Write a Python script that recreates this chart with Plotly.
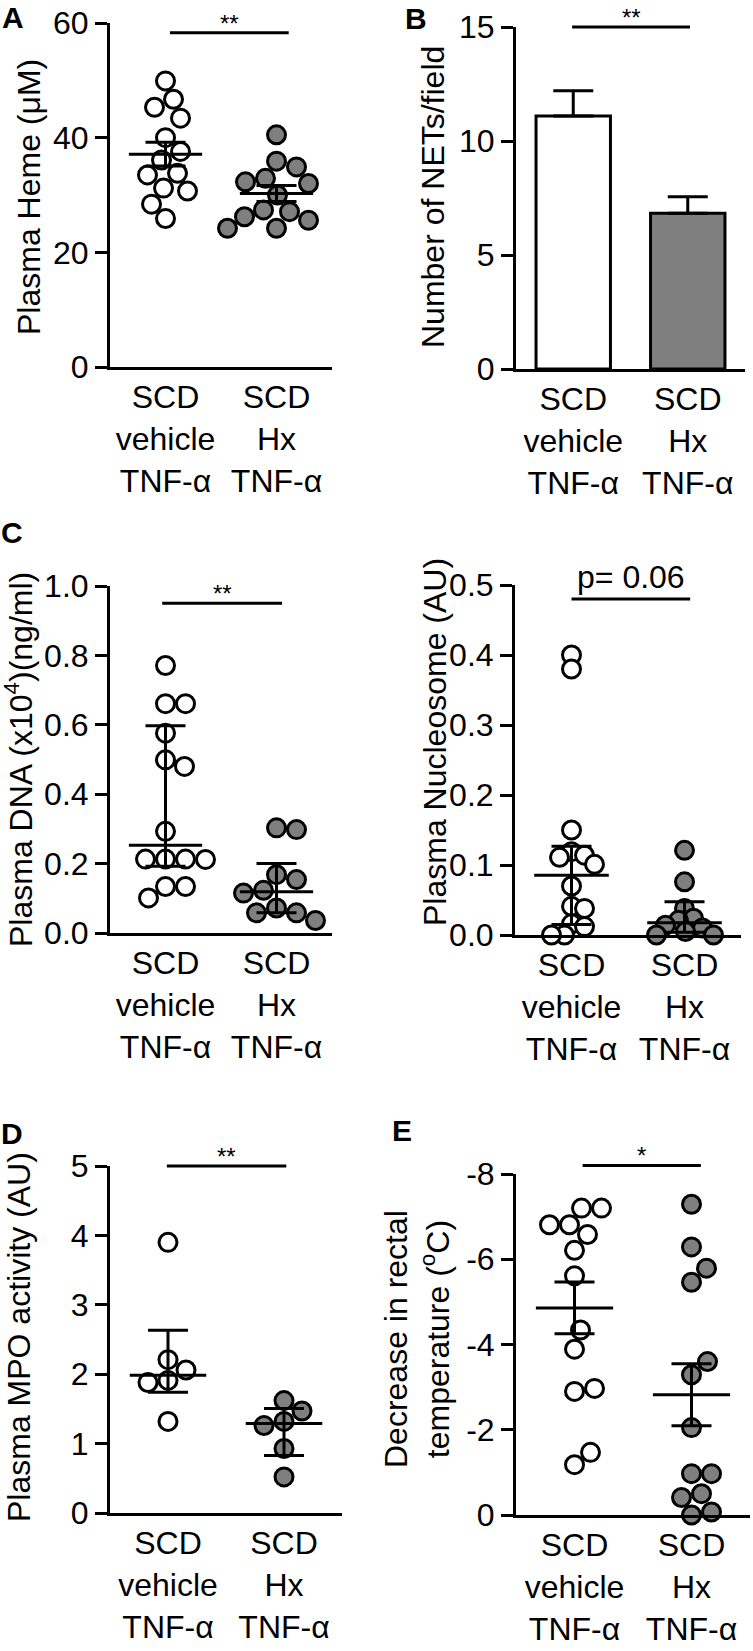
"""Six-panel dot/bar figure: plasma heme, NETs, DNA, nucleosome, MPO, temperature."""

import numpy as np
import plotly.graph_objects as go

W, H = 753, 1651
FONT = "Liberation Sans, Arial, Helvetica, sans-serif"
GRAY = "#7f7f7f"

# ---- data -------------------------------------------------------------
groups = ["SCD<br>vehicle<br>TNF-α", "SCD<br>Hx<br>TNF-α"]

heme_vehicle = [49.9, 46.7, 45.3, 43.4, 40.0, 37.6, 36.1, 33.8, 33.5, 31.2, 30.7, 28.4, 25.9]
heme_hx = [40.5, 35.9, 34.9, 32.9, 32.3, 32.0, 30.0, 27.4, 27.1, 26.2, 25.6, 24.2, 24.2]

nets_mean = [11.1, 6.83]
nets_sem = [1.1, 0.73]

dna_vehicle = [0.771, 0.661, 0.661, 0.576, 0.499, 0.480, 0.293,
               0.213, 0.213, 0.212, 0.213, 0.134, 0.134, 0.101]
dna_hx = [0.298, 0.303, 0.168, 0.154, 0.123, 0.115, 0.072, 0.058, 0.058, 0.036]

nuc_vehicle = [0.400, 0.380, 0.150, 0.119, 0.114, 0.111, 0.101,
               0.070, 0.041, 0.038, 0.016, 0.012, 0.0, 0.0]
nuc_hx = [0.121, 0.076, 0.038, 0.024, 0.021, 0.014, 0.010, 0.005, 0.0, 0.0]

mpo_vehicle = [3.90, 2.21, 2.06, 1.91, 1.88, 1.32]
mpo_hx = [1.62, 1.47, 1.32, 1.26, 0.93, 0.52]

temp_vehicle = [-7.20, -7.20, -6.81, -6.81, -6.58, -6.21, -5.61,
                -4.34, -3.89, -2.97, -2.90, -1.47, -1.18]
temp_hx = [-7.29, -6.29, -5.79, -5.46, -3.60, -3.29, -2.05,
           -0.97, -0.97, -0.50, -0.41, -0.07, 0.0]

ticks_heme = [0, 20, 40, 60]
ticks_nets = [0, 5, 10, 15]
ticks_dna = [0.0, 0.2, 0.4, 0.6, 0.8, 1.0]
ticks_nuc = [0.0, 0.1, 0.2, 0.3, 0.4, 0.5]
ticks_mpo = [0, 1, 2, 3, 4, 5]
ticks_temp = [-8, -6, -4, -2, 0]
ticktext_temp = ["-8", "-6", "-4", "-2", "0"]


# ---- helpers ----------------------------------------------------------
def mean_sem(v):
    v = np.asarray(v, dtype=float)
    m = v.mean()
    s = v.std(ddof=1) / np.sqrt(len(v))
    return m, s, s


def median_iqr(v):
    q1, med, q3 = np.percentile(np.asarray(v, dtype=float), [25, 50, 75], method="weibull")
    return med, q3 - med, med - q1


def swarm_x(values, center, ppx, ppy, gap=20.0):
    """Simple beeswarm: nearest free horizontal slot for each point (pixels)."""
    values = np.asarray(values, dtype=float)
    placed = []
    xs = np.zeros(len(values))
    for i in np.argsort(-values, kind="stable"):
        py = values[i] * ppy
        k = 0
        chosen = None
        while chosen is None:
            for off in ([0] if k == 0 else [k, -k]):
                if all((off - qx) ** 2 + (py - qy) ** 2 >= gap ** 2 for qx, qy in placed):
                    chosen = off
                    break
            k += 1
        placed.append((chosen, py))
        xs[i] = center + chosen / ppx
    return xs


def axis_keys(n):
    s = "" if n == 1 else str(n)
    return "x" + s, "y" + s, "xaxis" + s, "yaxis" + s


def setup_axes(fig, n, box, yrange, tickvals, ticktext=None, fmt=None):
    x0, x1, yt, yb = box
    xr, yr, xk, yk = axis_keys(n)
    fig.layout[xk] = dict(
        domain=[x0 / W, x1 / W], range=[0.5, 2.5], anchor=yr, automargin=False,
        tickvals=[1, 2], ticktext=groups, ticks="",
        showline=True, linewidth=3, linecolor="black",
        showgrid=False, zeroline=False, fixedrange=True,
        tickfont=dict(size=32, color="black", family=FONT),
    )
    ya = dict(
        domain=[1 - yb / H, 1 - yt / H], range=yrange, anchor=xr, automargin=False,
        tickvals=tickvals, ticks="outside", ticklen=12, tickwidth=3, tickcolor="black",
        showline=True, linewidth=3, linecolor="black",
        showgrid=False, zeroline=False, fixedrange=True,
        tickfont=dict(size=32, color="black", family=FONT),
    )
    if ticktext is not None:
        ya["ticktext"] = ticktext
    if fmt is not None:
        ya["tickformat"] = fmt
    fig.layout[yk] = ya


def add_dots(fig, n, box, yrange, series, summary, gap=20.0):
    x0, x1, yt, yb = box
    xr, yr, _, _ = axis_keys(n)
    ppx = (x1 - x0) / 2.0
    ppy = (yb - yt) / abs(yrange[1] - yrange[0])
    centers, ups, downs = [], [], []
    for i, (vals, fill) in enumerate(zip(series, ["white", GRAY])):
        fig.add_trace(go.Scatter(
            x=swarm_x(vals, i + 1, ppx, ppy, gap), y=vals, xaxis=xr, yaxis=yr,
            mode="markers", cliponaxis=False, hoverinfo="skip",
            marker=dict(size=18, color=fill, line=dict(width=3, color="black")),
        ))
        c, up, dn = summary(vals)
        centers.append(c)
        ups.append(up)
        downs.append(dn)
    fig.add_trace(go.Scatter(
        x=[1, 2], y=centers, xaxis=xr, yaxis=yr, mode="markers",
        cliponaxis=False, hoverinfo="skip",
        marker=dict(size=1, color="black"),
        error_x=dict(type="constant", value=0.33, width=0, thickness=3, color="black"),
        error_y=dict(type="data", array=ups, arrayminus=downs, symmetric=False,
                     width=20, thickness=3, color="black"),
    ))


def add_bracket(fig, box, yrange, xa, xb, y, text, size=24, yshift=-6):
    # paper coordinates so the line is not clipped at the top of the subplot
    x0, x1, yt, yb = box

    def px(v):
        return (x0 + (v - 0.5) / 2.0 * (x1 - x0)) / W

    py = 1 - (yb - (y - yrange[0]) / (yrange[1] - yrange[0]) * (yb - yt)) / H
    fig.add_shape(type="line", xref="paper", yref="paper", x0=px(xa), x1=px(xb), y0=py, y1=py,
                  line=dict(color="black", width=3))
    fig.add_annotation(xref="paper", yref="paper", x=(px(xa) + px(xb)) / 2, y=py, text=text,
                       showarrow=False, xanchor="center", yanchor="bottom", yshift=yshift,
                       font=dict(size=size, color="black", family=FONT))


def add_label(fig, text, x, y, size=32, angle=0, bold=False):
    fig.add_annotation(xref="paper", yref="paper", x=x / W, y=1 - y / H,
                       xanchor="center", yanchor="middle", text=f"<b>{text}</b>" if bold else text,
                       textangle=angle, showarrow=False,
                       font=dict(size=size, color="black", family=FONT))


# ---- figure -----------------------------------------------------------
fig = go.Figure()

box_a = (110, 332, 23, 367)
box_b = (516, 745, 27, 369)
box_c1 = (110, 332, 586, 933)
box_c2 = (515, 741, 585, 935)
box_d = (110, 342, 1166, 1513)
box_e = (516, 750, 1174, 1515)

# A
setup_axes(fig, 1, box_a, [0, 60], ticks_heme)
add_dots(fig, 1, box_a, [0, 60], [heme_vehicle, heme_hx], mean_sem)
add_bracket(fig, box_a, [0, 60], 1.04, 2.11, 58.3, "**")

# B
setup_axes(fig, 2, box_b, [0, 15], ticks_nets)
fig.add_trace(go.Bar(
    x=[1, 2], y=nets_mean, width=0.65, xaxis="x2", yaxis="y2", hoverinfo="skip",
    marker=dict(color=["white", GRAY], line=dict(width=3, color="black")),
    error_y=dict(type="data", array=nets_sem, arrayminus=[0, 0], symmetric=False,
                 width=20, thickness=3, color="black"),
))
add_bracket(fig, box_b, [0, 15], 0.99, 2.02, 15.0, "**")

# C (left)
setup_axes(fig, 3, box_c1, [0, 1.0], ticks_dna, fmt=".1f")
add_dots(fig, 3, box_c1, [0, 1.0], [dna_vehicle, dna_hx], median_iqr)
add_bracket(fig, box_c1, [0, 1.0], 0.97, 2.05, 0.95, "**")

# C (right)
setup_axes(fig, 4, box_c2, [0, 0.5], ticks_nuc, fmt=".1f")
add_dots(fig, 4, box_c2, [0, 0.5], [nuc_vehicle, nuc_hx], median_iqr, gap=13.0)
add_bracket(fig, box_c2, [0, 0.5], 1.0, 2.05, 0.48, "p= 0.06", size=32, yshift=2)

# D
setup_axes(fig, 5, box_d, [0, 5], ticks_mpo)
add_dots(fig, 5, box_d, [0, 5], [mpo_vehicle, mpo_hx], median_iqr)
add_bracket(fig, box_d, [0, 5], 0.99, 2.02, 5.0, "**")

# E
setup_axes(fig, 6, box_e, [0, -8], ticks_temp, ticktext=ticktext_temp)
add_dots(fig, 6, box_e, [0, -8], [temp_vehicle, temp_hx], mean_sem)
add_bracket(fig, box_e, [0, -8], 1.07, 2.08, -8.2, "*")

# axis titles
add_label(fig, "Plasma Heme (μM)", 29, 197, angle=-90)
add_label(fig, "Number of NETs/field", 433, 197, angle=-90)
add_label(fig, "Plasma DNA (x10<sup>4</sup>)(ng/ml)", 19, 760, angle=-90)
add_label(fig, "Plasma Nucleosome (AU)", 435, 742, angle=-90)
add_label(fig, "Plasma MPO activity (AU)", 19, 1337, angle=-90)
add_label(fig, "Decrease in rectal<br>temperature (<sup>o</sup>C)", 417, 1339, angle=-90)

# panel letters
for letter, lx, ly in [("A", 13, 17), ("B", 416, 18), ("C", 12, 532), ("D", 12, 1133), ("E", 402, 1130)]:
    add_label(fig, letter, lx, ly, size=30, bold=True)

fig.update_layout(
    width=W, height=H, autosize=False,
    margin=dict(l=0, r=0, t=0, b=0, pad=0),
    paper_bgcolor="white", plot_bgcolor="white",
    showlegend=False, barmode="overlay",
    font=dict(family=FONT, color="black"),
)

fig.write_html("out.html", post_script="document.body.style.margin='0';",
               config={"displayModeBar": False})
